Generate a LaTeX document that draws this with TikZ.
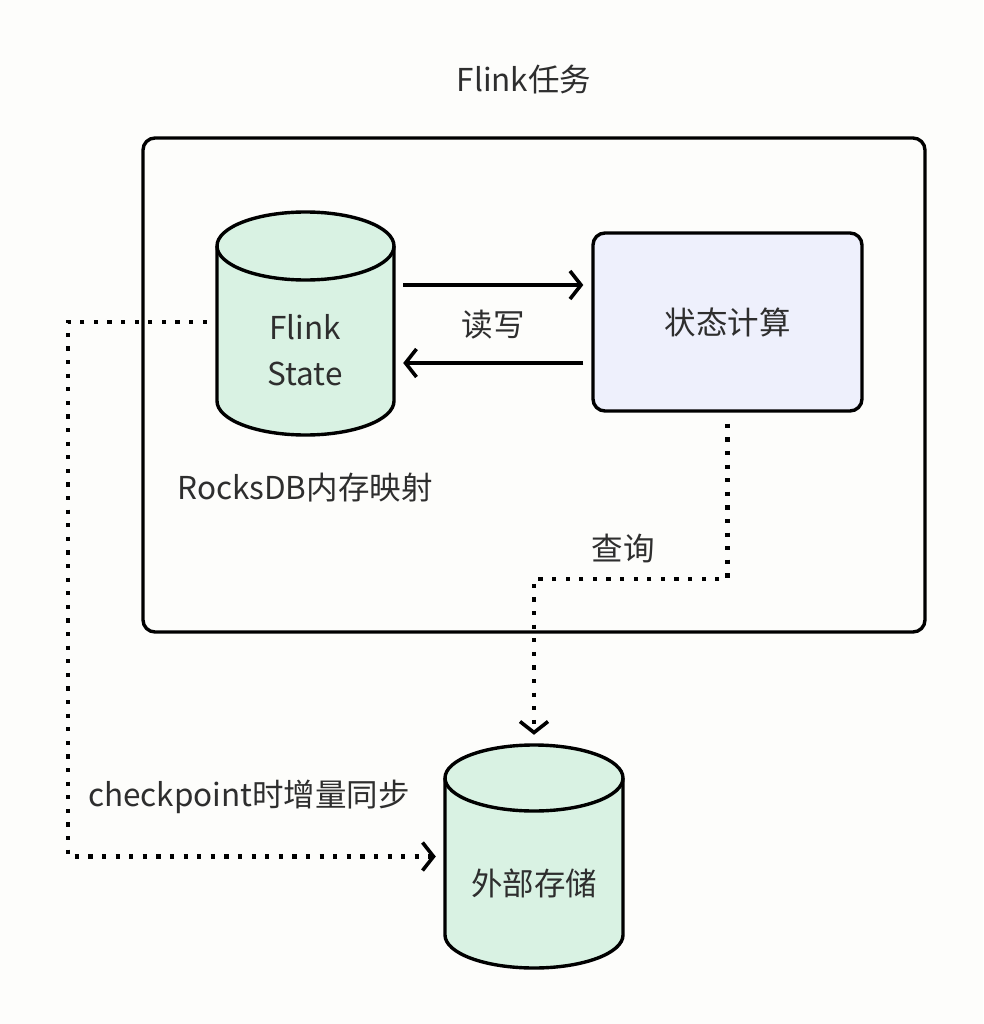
\documentclass[tikz,border=0pt]{standalone}
\usepackage{fontspec}
\setmainfont{Noto Sans CJK SC}
\usetikzlibrary{arrows.meta,calc}
\definecolor{txt}{HTML}{2E2E2E}
\definecolor{dbgreen}{HTML}{D9F2E3}
\definecolor{lav}{HTML}{EEF0FC}
\definecolor{bg}{HTML}{FDFDFB}
\tikzset{
  lbl/.style={font=\fontsize{31.5}{46}\selectfont, text=txt, inner sep=0pt},
  solidarr/.style={line width=3.6pt, -{Straight Barb[length=11pt,width=28pt,line width=3.6pt]}},
  dotline/.style={line width=4.2pt, dash pattern=on 4.2pt off 9.4pt},
  dotarr/.style={dotline, -{Straight Barb[length=11pt,width=28pt,line width=3.6pt]}},
  frame/.style={draw, line width=3.4pt, rounded corners=12pt}
}
\begin{document}
\begin{tikzpicture}[x=1pt,y=-1pt]
\fill[bg] (0,0) rectangle (983,1024);
\path[use as bounding box] (0,0) rectangle (983,1024);

% title
\node[lbl] (title) at (524,80) {Flink任务};

% outer task frame
\node[frame, minimum width=782pt, minimum height=494pt] (task) at (534,385) {};

% Flink State cylinder
\node[minimum width=177pt, minimum height=223pt, inner sep=0pt] (fs) at (305.5,323.5) {};
\filldraw[fill=dbgreen, line width=3.4pt]
  (217,246) -- (217,401) arc[start angle=180, end angle=360, x radius=88.5pt, y radius=34pt]
  -- (394,246) arc[start angle=0, end angle=180, x radius=88.5pt, y radius=34pt] -- cycle;
\draw[line width=3.4pt] (217,246) arc[start angle=180, end angle=360, x radius=88.5pt, y radius=34pt];
\node[lbl, align=center] (fstext) at (305,350) {Flink\\State};

% 状态计算 box
\node[frame, fill=lav, minimum width=269pt, minimum height=178pt, lbl] (calc) at (727.5,322) {状态计算};

% read/write arrows
\coordinate (a1) at ([xshift=9pt]fs.east |- 0,285);
\coordinate (a2) at ([xshift=9pt]fs.east |- 0,363);
\draw[solidarr, shorten >=8pt] (a1) -- (a1 -| calc.west);
\draw[solidarr, shorten <=8pt] (a2 -| calc.west) -- (a2);
\node[lbl] (rw) at (493,325) {读写};

\node[lbl] (rocks) at (305,488) {RocksDB内存映射};

% external storage cylinder
\node[minimum width=178pt, minimum height=223pt, inner sep=0pt] (ext) at (534,856.5) {};
\filldraw[fill=dbgreen, line width=3.4pt]
  (445,778) -- (445,935) arc[start angle=180, end angle=360, x radius=89pt, y radius=33pt]
  -- (623,778) arc[start angle=0, end angle=180, x radius=89pt, y radius=33pt] -- cycle;
\draw[line width=3.4pt] (445,778) arc[start angle=180, end angle=360, x radius=89pt, y radius=33pt];
\node[lbl] (exttext) at (534,883) {外部存储};

% query dotted connector
\coordinate (q0) at ([yshift=-11pt]calc.south);
\draw[dotarr, shorten >=10pt] (q0) -- ++(0,155) -| (ext.north);
\node[lbl] (query) at (623,548) {查询};

% checkpoint dotted connector
\coordinate (c0) at ([xshift=-10pt]fs.west |- 0,322);
\coordinate (c1) at (68,322);
\draw[dotarr] (c0) -- (c1) |- ([xshift=-9pt]ext.west);
\node[lbl] (cp) at (249,797) {checkpoint时增量同步};
\end{tikzpicture}
\end{document}
